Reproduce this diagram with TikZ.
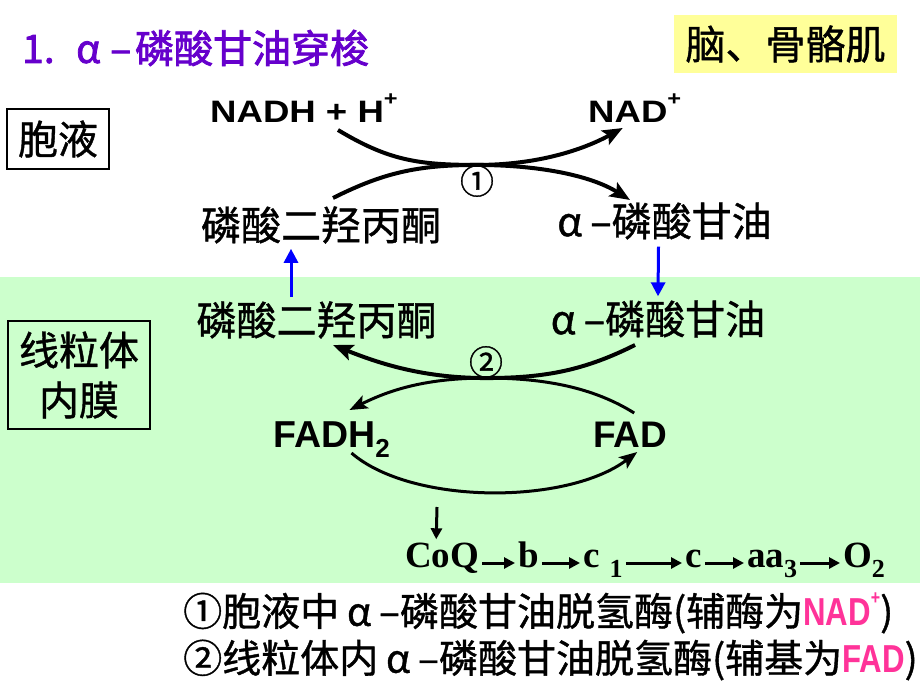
\documentclass[tikz,border=0pt]{standalone}
\usepackage{fontspec}
\setmainfont{Liberation Sans}
\newfontfamily\cjk[FakeBold=1]{Noto Sans CJK SC}
\newfontfamily\cjkb[FakeBold=2]{Noto Sans CJK SC}
\newfontfamily\arialw[FakeStretch=1.18]{Liberation Sans}
\newfontfamily\arialn[FakeStretch=0.8]{Liberation Sans}
\newfontfamily\tnr{Liberation Serif}
\usetikzlibrary{arrows.meta,positioning}
\definecolor{shuttlepurple}{RGB}{102,0,204}
\definecolor{membranegreen}{RGB}{204,255,204}
\definecolor{tissueyellow}{RGB}{255,255,153}
\definecolor{coenzpink}{RGB}{255,51,153}
\newcommand{\sz}[1]{\fontsize{#1}{#1}\selectfont}
\newcommand{\lowidx}[1]{\raisebox{-0.28em}{\sz{26}#1}}
\newcommand{\plusup}{\raisebox{0.55em}{\sz{20}+}}
\tikzset{
	lbl/.style={inner sep=0pt, font=\cjk\sz{40}},
	fat/.style={line width=4pt, -{Stealth[length=20pt,width=16pt,inset=4pt]}},
	slim/.style={line width=3pt, -{Stealth[length=18pt,width=14pt,inset=4pt]}},
	bluearrow/.style={blue, line width=3pt, -{Triangle[length=14pt,width=14pt]}},
	chainarrow/.style={line width=3pt, -{Triangle[length=11pt,width=11pt]}},
	chain/.style={anchor=base west, inner sep=3pt, font=\tnr\bfseries\sz{37}}
}
\begin{document}
\begin{tikzpicture}[x=1pt, y=-1pt]
			\useasboundingbox (0,0) rectangle (920,690);
			\fill[membranegreen] (0,277) rectangle (920,583);
			
			\node[anchor=west, inner sep=0pt, text=shuttlepurple, font=\cjkb\sz{39}] (title) at (22,48) {1.\hspace{0.55em}α\hspace{0.25em}–\hspace{0.1em}磷酸甘油穿梭};
			\node[fill=tissueyellow, minimum width=223pt, minimum height=58pt, font=\cjk\sz{40}] (organ) at (785.5,44) {脑、骨骼肌};
			\node[draw, line width=1.5pt, minimum width=102pt, minimum height=60pt, font=\cjk\sz{40}] (cyto) at (58,139) {胞液};
			\node[draw, line width=1.5pt, minimum width=142pt, minimum height=108pt, align=center, font=\cjk\fontsize{40}{50}\selectfont] (inner) at (79,375) {线粒体\\内膜};
			
			\node[anchor=base west, inner sep=0pt, font=\arialw\bfseries\sz{31}] (nadh) at (210,123) {NADH + H\plusup};
			\node[anchor=base west, inner sep=0pt, font=\arialw\bfseries\sz{31}] (nadp) at (588,123) {NAD\plusup};
			\node[lbl] (dhap1) at (321,225) {磷酸二羟丙酮};
			\node[lbl] (gp1) at (664.5,221) {α\hspace{0.2em}–磷酸甘油};
			\node[lbl] (dhap2) at (316.5,320) {磷酸二羟丙酮};
			\node[lbl] (gp2) at (658,319) {α\hspace{0.2em}–磷酸甘油};
			\node[inner sep=0pt, font=\cjk\sz{34}] (one) at (477,181) {①};
			\node[inner sep=0pt, font=\cjk\sz{34}] (two) at (486,362) {②};
			\node[anchor=base west, inner sep=0pt, font=\bfseries\sz{37.5}] (fadh) at (273,447) {FADH\lowidx{2}};
			\node[anchor=base west, inner sep=0pt, font=\bfseries\sz{37}] (fad) at (593,447) {FAD};
			
			\draw[fat] ([shift={(34,7)}]nadh.base) .. controls +(50,30) and +(-60,0) .. (one.north) .. controls +(60,0) and +(-40,22) .. ([shift={(-12,5)}]nadp.base);
			\draw[fat] ([shift={(12,-27)}]dhap1.center) .. controls +(50,-25) and +(-60,0) .. (one.north) .. controls +(60,0) and +(-40,-25) .. ([shift={(-34.5,-21)}]gp1.center);
			\draw[bluearrow] ([shift={(-6,7)}]gp1.south) -- ([shift={(0,-4)}]gp2.north);
			\draw[bluearrow] ([shift={(-25.5,-4)}]dhap2.north) -- ([shift={(-30,5)}]dhap1.south);
			
			\draw[fat] ([shift={(-23,26)}]gp2.center) .. controls +(-50,25) and +(60,0) .. (two.south) .. controls +(-60,0) and +(50,20) .. ([shift={(16.5,25)}]dhap2.center);
			\draw[slim] ([shift={(4,-34)}]fad.base) .. controls +(-40,-25) and +(60,0) .. (two.south) .. controls +(-60,0) and +(40,-20) .. ([shift={(18,-37)}]fadh.base);
			\draw[slim] ([shift={(20,6)}]fadh.base) .. controls +(60,52) and +(-70,53) .. ([shift={(7,5)}]fad.base);
			
			\node[chain] (coq) at (402,567) {CoQ};
			\node[chain] (b) at (515,567) {b};
			\node[chain] (c1) at (580,567) {c\kern10pt\lowidx{1}};
			\node[chain] (c) at (682,567) {c};
			\node[chain] (aa) at (744,567) {aa\lowidx{3}};
			\node[chain] (o2) at (840,567) {O\lowidx{2}};
			\coordinate (relay) at (437,507);
			\draw[chainarrow] (relay) -- ([xshift=-6pt]coq.north);
			\foreach \src/\dst in {coq/b, b/c1, c1/c, c/aa, aa/o2}
				\draw[chainarrow] ([yshift=4pt]\src.base east) -- ([yshift=4pt]\dst.base west);
			
			\node[anchor=west, inner sep=0pt, font=\cjk\sz{39}] (note1) at (183,613) {①胞液中\hspace{0.2em}α\hspace{0.2em}–磷酸甘油脱氢酶(辅酶为{\arialn\bfseries\color{coenzpink}NAD\plusup})};
			\node[anchor=west, inner sep=0pt, font=\cjk\sz{39}] (note2) at (183,660) {②线粒体内\hspace{0.2em}α\hspace{0.2em}–磷酸甘油脱氢酶(辅基为{\arialn\bfseries\color{coenzpink}FAD})};
		\end{tikzpicture}
\end{document}
